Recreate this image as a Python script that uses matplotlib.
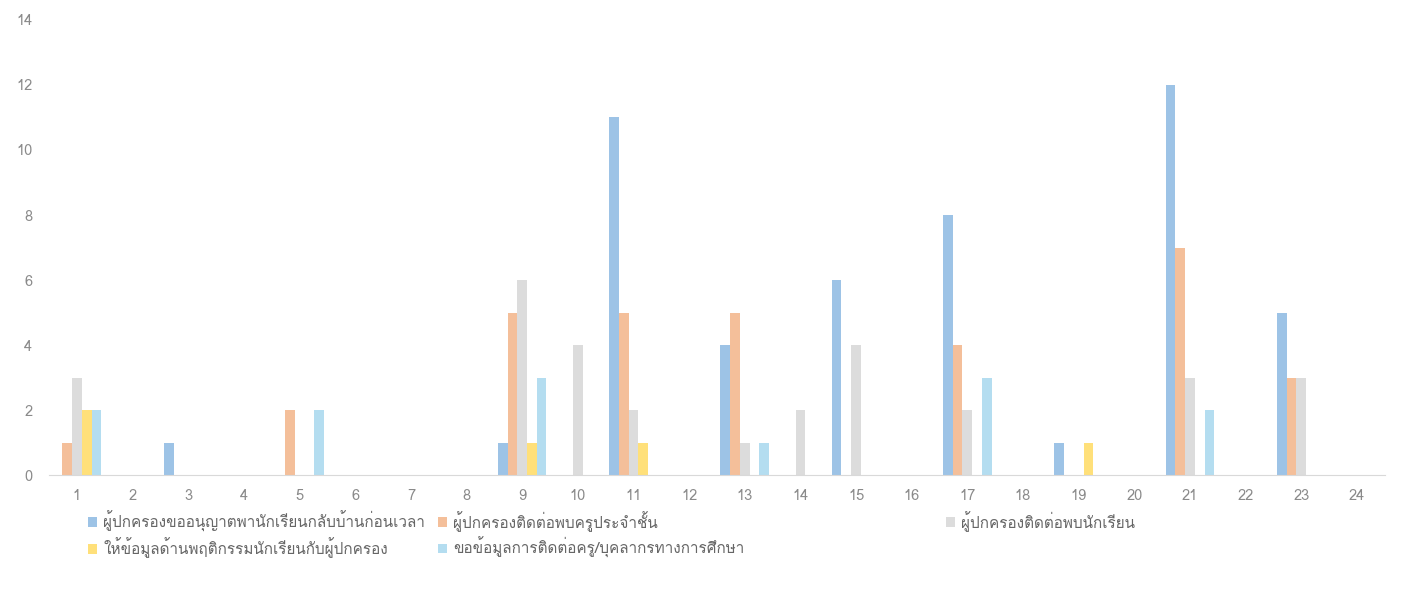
import numpy as np
import matplotlib
matplotlib.use('Agg')
import matplotlib.pyplot as plt
from matplotlib import font_manager
from matplotlib.ft2font import FT2Font

# categories and series
categories = list(range(1, 25))
series_names = [
    'ผู้ปกครองขออนุญาตพานักเรียนกลับบ้านก่อนเวลา',
    'ผู้ปกครองติดต่อพบครูประจำชั้น',
    'ผู้ปกครองติดต่อพบนักเรียน',
    'ให้ข้อมูลด้านพฤติกรรมนักเรียนกับผู้ปกครอง',
    'ขอข้อมูลการติดต่อครู/บุคลากรทางการศึกษา',
]
early_pickup = [0, 0, 1, 0, 0, 0, 0, 0, 1, 0, 11, 0, 4, 0, 6, 0, 8, 0, 1, 0, 12, 0, 5, 0]
meet_teacher = [1, 0, 0, 0, 2, 0, 0, 0, 5, 0, 5, 0, 5, 0, 0, 0, 4, 0, 0, 0, 7, 0, 3, 0]
meet_student = [3, 0, 0, 0, 0, 0, 0, 0, 6, 4, 2, 0, 1, 2, 4, 0, 2, 0, 0, 0, 3, 0, 3, 0]
behaviour_info = [2, 0, 0, 0, 0, 0, 0, 0, 1, 0, 1, 0, 0, 0, 0, 0, 0, 0, 1, 0, 0, 0, 0, 0]
contact_info = [2, 0, 0, 0, 2, 0, 0, 0, 3, 0, 0, 0, 1, 0, 0, 0, 3, 0, 0, 0, 2, 0, 0, 0]

colors = ['#9dc3e6', '#f4bf9a', '#dcdcdc', '#ffe07a', '#b4ddf0']


# find a font that has Thai glyphs, if there is one
def find_thai_font():
    for f in font_manager.fontManager.ttflist:
        try:
            if 0x0E1C in FT2Font(f.fname).get_charmap():
                return f.name
        except Exception:
            continue
    return None


thai = find_thai_font()
families = ([thai] if thai else []) + ['DejaVu Sans']
plt.rcParams['font.family'] = families

fig = plt.figure(figsize=(14.03, 6.03), dpi=100)
ax = fig.add_axes([0.035, 0.212, 0.952, 0.755])

x = np.arange(len(categories))
width = 0.175
all_series = [early_pickup, meet_teacher, meet_student, behaviour_info, contact_info]
handles = []
for i, vals in enumerate(all_series):
    b = ax.bar(x + (i - 2) * width, vals, width, color=colors[i], label=series_names[i])
    handles.append(b)

ax.set_xlim(-0.5, len(categories) - 0.5)
ax.set_ylim(0, 14)
ax.set_yticks(range(0, 15, 2))
ax.set_xticks(x)
ax.set_xticklabels([str(c) for c in categories])
ax.tick_params(axis='both', length=0, colors='#8a8a8a', labelsize=10.5)
ax.tick_params(axis='x', pad=10)
ax.tick_params(axis='y', pad=12)
for s in ['top', 'right', 'left']:
    ax.spines[s].set_visible(False)
ax.spines['bottom'].set_color('#d9d9d9')

# legend: two columns on the left, third entry placed further right like the original
leg_kw = dict(loc='upper left', frameon=False, fontsize=11, handlelength=0.6,
              handleheight=0.6, handletextpad=0.4, labelspacing=0.35,
              borderpad=0, borderaxespad=0, labelcolor='#666666')
order = [0, 3, 1, 4]
fig.legend([handles[i] for i in order], [series_names[i] for i in order], ncol=2,
           bbox_to_anchor=(0.0627, 0.153), columnspacing=0.85, **leg_kw)
fig.legend([handles[2]], [series_names[2]], bbox_to_anchor=(0.674, 0.153), **leg_kw)

fig.savefig('out.png', dpi=100)
